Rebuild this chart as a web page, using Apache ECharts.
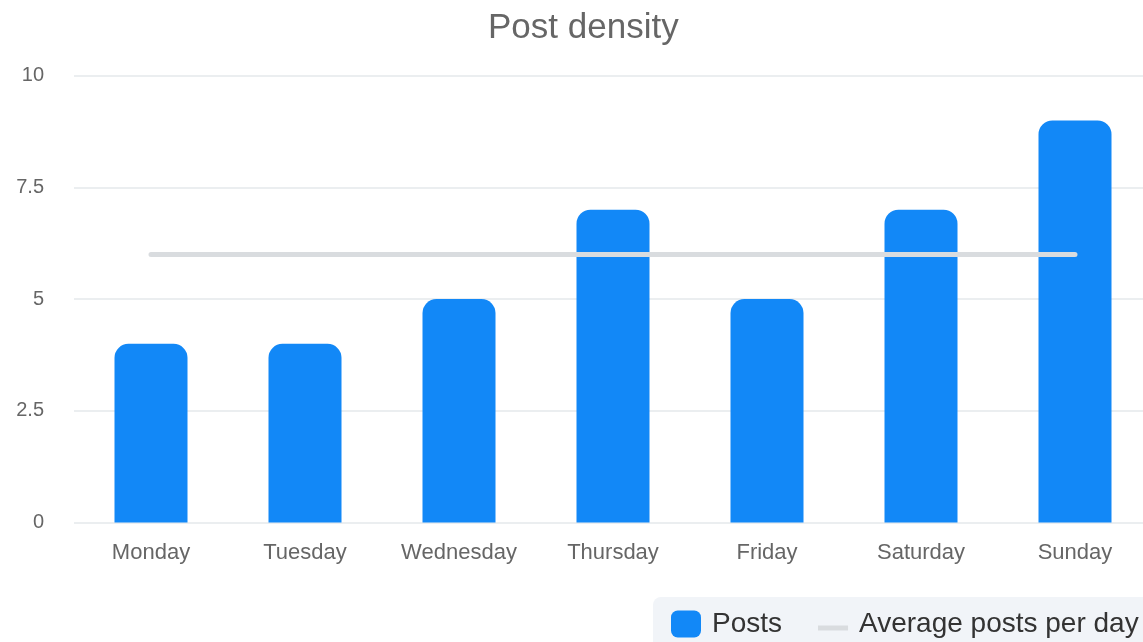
<!DOCTYPE html>
<html>
<head>
<meta charset="utf-8">
<script src="https://cdn.jsdelivr.net/npm/echarts@6/dist/echarts.min.js"></script>
<style>
  html, body { margin: 0; padding: 0; background: #fff; }
  #chart { width: 1143px; height: 642px; }
</style>
</head>
<body>
<div id="chart"></div>
<script>
const days = ["Monday", "Tuesday", "Wednesday", "Thursday", "Friday", "Saturday", "Sunday"];
const posts = [4, 4, 5, 7, 5, 7, 9];
const averagePerDay = [6, 6, 6, 6, 6, 6, 6];
const yTicks = [0, 2.5, 5, 7.5, 10];

const font = "'Liberation Sans', Arial, sans-serif";
const chart = echarts.init(document.getElementById("chart"));

const option = {
  animation: false,
  title: {
    text: "Post density",
    left: 483,
    top: 6,
    textStyle: { fontFamily: font, fontSize: 35, fontWeight: "normal", color: "#666666" },
  },
  legend: {
    left: 653,
    top: 597,
    width: 700,
    padding: [13, 18, 13, 18],
    backgroundColor: "#f1f4f8",
    borderRadius: 8,
    itemWidth: 30,
    itemHeight: 27,
    itemGap: 36,
    textStyle: { fontFamily: font, fontSize: 28, color: "#333333", padding: [12, 0, 0, 6] },
    data: [
      { name: "Posts", icon: "roundRect", itemStyle: { color: "#1288f7" } },
      {
        name: "Average posts per day",
        icon: "path://M0,0 L30,0 L30,0.01 L0,0.01 Z M0,15 L30,15 L30,20 L0,20 Z M0,27 L30,27 L30,26.99 L0,26.99 Z",
        itemStyle: { color: "#d9dcdf" },
      },
    ],
  },
  grid: { left: 74, width: 1078, top: 75.7, bottom: 119.5, outerBoundsMode: "none" },
  xAxis: {
    type: "category",
    data: days,
    axisLine: { show: false },
    axisTick: { show: false },
    axisLabel: { fontFamily: font, fontSize: 22, color: "#666666", margin: 19 },
  },
  yAxis: {
    type: "value",
    min: yTicks[0],
    max: yTicks[yTicks.length - 1],
    interval: 2.5,
    axisLine: { show: false },
    axisTick: { show: false },
    splitLine: { lineStyle: { color: "#e5e8eb", width: 1.5 } },
    axisLabel: { fontFamily: font, fontSize: 20, color: "#666666", margin: 30 },
  },
  series: [
    {
      name: "Posts",
      type: "bar",
      data: posts,
      barWidth: 73,
      itemStyle: { color: "#1288f7", borderRadius: [14, 14, 0, 0] },
    },
    {
      name: "Average posts per day",
      type: "line",
      data: averagePerDay,
      symbol: "none",
      lineStyle: { color: "#d9dcdf", width: 5, cap: "round" },
      itemStyle: { color: "#d9dcdf" },
      z: 3,
    },
  ],
};

chart.setOption(option);
</script>
</body>
</html>
